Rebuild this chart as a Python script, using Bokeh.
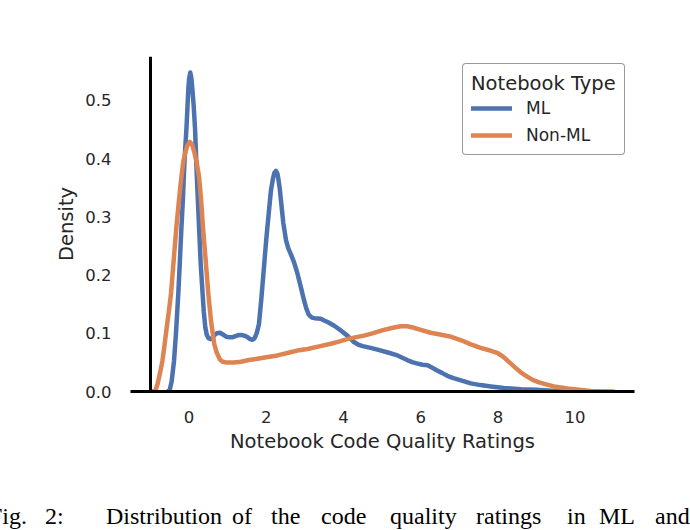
from bokeh.plotting import figure
from bokeh.models import (Range1d, Span, Legend, LegendItem, FixedTicker,
                          PrintfTickFormatter, Div)
from bokeh.layouts import column
from bokeh.embed import file_html
from bokeh.resources import INLINE

# ---- data ----
ml_x = [-0.55, -0.5, -0.45, -0.39, -0.34, -0.28, -0.24, -0.2, -0.16, -0.13,
        -0.1, -0.07, -0.02, 0.0, 0.03, 0.06, 0.09, 0.12, 0.155, 0.2,
        0.26, 0.3, 0.35, 0.38, 0.42, 0.46, 0.5, 0.55, 0.6, 0.66,
        0.72, 0.8, 0.9, 0.97, 1.05, 1.12, 1.2, 1.28, 1.35, 1.43,
        1.5, 1.58, 1.64, 1.69, 1.72, 1.76, 1.81, 1.87, 1.94, 2.0,
        2.07, 2.12, 2.17, 2.21, 2.25, 2.29, 2.32, 2.35, 2.38, 2.44,
        2.51, 2.57, 2.63, 2.72, 2.81, 2.9, 2.98, 3.04, 3.1, 3.18,
        3.25, 3.41, 3.5, 3.6, 3.76, 3.93, 4.1, 4.27, 4.4, 4.5,
        4.7, 4.88, 5.15, 5.4, 5.65, 5.8, 5.92, 6.05, 6.18, 6.3,
        6.4, 6.55, 6.69, 6.85, 7.0, 7.15, 7.3, 7.55, 7.82, 8.15,
        8.6, 9.0, 9.5, 10.0]
ml_y = [0.0, 0.003, 0.018, 0.053, 0.1, 0.168, 0.222, 0.28, 0.33, 0.38,
        0.418, 0.45, 0.52, 0.537, 0.548, 0.538, 0.515, 0.49, 0.45, 0.37,
        0.28, 0.22, 0.168, 0.138, 0.11, 0.097, 0.092, 0.09, 0.092, 0.097,
        0.1, 0.101, 0.097, 0.094, 0.093, 0.093, 0.095, 0.097, 0.097, 0.096,
        0.094, 0.09, 0.089, 0.091, 0.095, 0.102, 0.116, 0.158, 0.214, 0.262,
        0.311, 0.345, 0.365, 0.376, 0.379, 0.374, 0.362, 0.348, 0.328, 0.29,
        0.26, 0.246, 0.237, 0.222, 0.202, 0.178, 0.156, 0.142, 0.132, 0.127,
        0.126, 0.125, 0.122, 0.119, 0.113, 0.105, 0.096, 0.085, 0.08, 0.078,
        0.075, 0.072, 0.067, 0.062, 0.054, 0.05, 0.048, 0.046, 0.045, 0.041,
        0.037, 0.032, 0.027, 0.023, 0.02, 0.017, 0.014, 0.011, 0.0086, 0.006,
        0.004, 0.003, 0.001, 0.0]

non_ml_x = [-0.95, -0.9, -0.86, -0.82, -0.78, -0.74, -0.69, -0.64, -0.58, -0.52,
            -0.47, -0.4, -0.33, -0.26, -0.2, -0.15, -0.1, -0.05, 0.02, 0.08,
            0.14, 0.2, 0.26, 0.31, 0.36, 0.43, 0.5, 0.57, 0.65, 0.72,
            0.8, 0.87, 0.95, 1.15, 1.34, 1.55, 1.73, 2.0, 2.29, 2.6,
            2.85, 3.07, 3.4, 3.67, 3.9, 4.1, 4.3, 4.53, 4.75, 5.0,
            5.25, 5.48, 5.65, 5.8, 6.0, 6.26, 6.5, 6.79, 7.05, 7.3,
            7.55, 7.82, 8.0, 8.15, 8.3, 8.45, 8.59, 8.75, 8.9, 9.05,
            9.2, 9.5, 9.8, 10.1, 10.4, 11.0]
non_ml_y = [0.0, 0.001, 0.004, 0.012, 0.024, 0.036, 0.053, 0.078, 0.11, 0.14,
            0.167, 0.225, 0.282, 0.33, 0.368, 0.395, 0.41, 0.422, 0.429, 0.424,
            0.41, 0.392, 0.368, 0.33, 0.282, 0.225, 0.167, 0.12, 0.082, 0.066,
            0.055, 0.051, 0.05, 0.05, 0.051, 0.054, 0.056, 0.059, 0.062, 0.067,
            0.071, 0.073, 0.078, 0.082, 0.086, 0.09, 0.093, 0.096, 0.1, 0.105,
            0.109, 0.112, 0.112, 0.11, 0.106, 0.101, 0.098, 0.094, 0.088, 0.081,
            0.075, 0.07, 0.066, 0.059, 0.05, 0.041, 0.033, 0.026, 0.02, 0.016,
            0.013, 0.008, 0.005, 0.003, 0.001, 0.0]

series_labels = ["ML", "Non-ML"]
legend_title = "Notebook Type"
x_ticks = [0, 2, 4, 6, 8, 10]
y_ticks = [0.0, 0.1, 0.2, 0.3, 0.4, 0.5]
x_label = "Notebook Code Quality Ratings"
y_label = "Density"
caption_words = ["Fig.", "2:", "Distribution", "of", "the", "code", "quality",
                 "ratings", "in", "ML", "and"]

# ---- layout constants ----
caption_word_px = [-11, 45, 106, 232, 271, 321, 390, 476, 567, 599, 655]
BLUE = "#4c72b0"
ORANGE = "#dd8452"
TXT = "#262626"
FONT = "DejaVu Sans"

p = figure(width=690, height=495,
           x_range=Range1d(-1.518, 11.539), y_range=Range1d(0, 0.5756),
           output_backend="svg", toolbar_location=None,
           min_border_left=130, min_border_right=56,
           min_border_top=56, min_border_bottom=104)
p.outline_line_color = None
p.grid.visible = False
p.background_fill_color = "white"
p.border_fill_color = "white"

r_ml = p.line(ml_x, ml_y, line_color=BLUE, line_width=4.5,
              line_join="round", line_cap="round")
r_non = p.line(non_ml_x, non_ml_y, line_color=ORANGE, line_width=4.5,
               line_join="round", line_cap="round")

# left spine at x = -1
p.add_layout(Span(location=-1, dimension="height", line_color="black", line_width=3))

# x axis
xa = p.xaxis[0]
xa.ticker = FixedTicker(ticks=x_ticks)
xa.axis_line_color = "black"
xa.axis_line_width = 3
xa.major_tick_line_color = None
xa.minor_tick_line_color = None
xa.major_label_standoff = 13
xa.major_label_text_font = FONT
xa.major_label_text_font_size = "16.5px"
xa.major_label_text_color = TXT
xa.axis_label = x_label
xa.axis_label_text_font = FONT
xa.axis_label_text_font_size = "19.5px"
xa.axis_label_text_font_style = "normal"
xa.axis_label_text_color = TXT
xa.axis_label_standoff = 4

# y axis
ya = p.yaxis[0]
ya.ticker = FixedTicker(ticks=y_ticks)
ya.formatter = PrintfTickFormatter(format="%.1f")
ya.axis_line_color = None
ya.major_tick_line_color = None
ya.minor_tick_line_color = None
ya.major_label_standoff = 13
ya.major_label_text_font = FONT
ya.major_label_text_font_size = "16.5px"
ya.major_label_text_color = TXT
ya.axis_label = y_label
ya.axis_label_text_font = FONT
ya.axis_label_text_font_size = "19.5px"
ya.axis_label_text_font_style = "normal"
ya.axis_label_text_color = TXT
ya.axis_label_standoff = 4

legend = Legend(items=[LegendItem(label=series_labels[0], renderers=[r_ml]),
                       LegendItem(label=series_labels[1], renderers=[r_non])],
                title=legend_title, location=(332, 236),
                padding=8, spacing=5, margin=0,
                glyph_width=41, glyph_height=22, label_height=22,
                label_standoff=14, title_standoff=2,
                label_text_font=FONT, label_text_font_size="17px",
                label_text_color=TXT,
                title_text_font=FONT, title_text_font_size="19.5px",
                title_text_font_style="normal", title_text_color=TXT,
                border_line_color="#333333", border_line_width=1.2,
                background_fill_color="white", background_fill_alpha=1.0)
if "border_radius" in Legend.properties():
    legend.border_radius = 4
p.add_layout(legend)

spans = "".join(
    f'<span style="position:absolute;left:{px}px;top:9px;white-space:nowrap;">{w}</span>'
    for w, px in zip(caption_words, caption_word_px))
caption_html = (
    '<div style="position:relative;width:690px;height:35px;overflow:hidden;'
    'font-family:\'Liberation Serif\',serif;font-size:24px;line-height:24px;'
    f'color:black;background:white;">{spans}</div>')
caption = Div(text=caption_html, width=690, height=35, margin=0)

layout = column(p, caption, spacing=0)
open("out.html", "w").write(file_html(layout, INLINE))
